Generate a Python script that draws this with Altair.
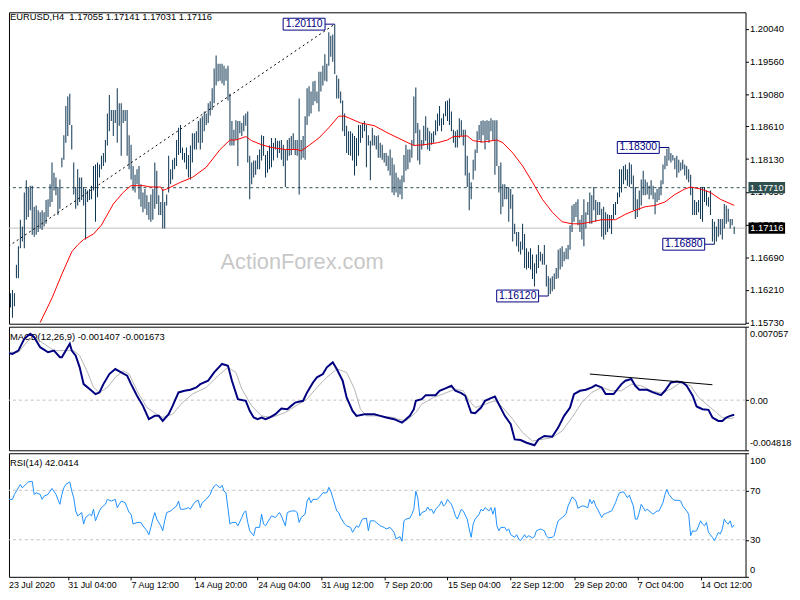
import altair as alt
import pandas as pd

# ---------------- data (prices in 1e-4 units) ----------------
HIGH = [
    11624, 11619, 11622, 11616, 11621, 11616, 11658, 11685, 11724, 11714,
    11764, 11782, 11772, 11774, 11774, 11743, 11745, 11738, 11735, 11738,
    11735, 11753, 11754, 11776, 11808, 11793, 11786, 11772, 11783, 11815,
    11848, 11891, 11905, 11909, 11863, 11808, 11772, 11798, 11786, 11786,
    11772, 11769, 11767, 11769, 11774, 11803, 11805, 11808, 11805, 11818,
    11822, 11841, 11880, 11907, 11885, 11885, 11885, 11917, 11895, 11895,
    11885, 11885, 11885, 11848, 11834, 11803, 11790, 11798, 11803, 11776,
    11764, 11769, 11760, 11750, 11761, 11769, 11808, 11796, 11760, 11750,
    11769, 11750, 11761, 11818, 11798, 11812, 11815, 11841, 11859, 11863,
    11830, 11822, 11830, 11819, 11833, 11851, 11851, 11854, 11869, 11873,
    11876, 11883, 11880, 11895, 11898, 11917, 11946, 11965, 11953, 11953,
    11953, 11950, 11946, 11950, 11909, 11869, 11856, 11870, 11869, 11869,
    11866, 11877, 11880, 11883, 11818, 11808, 11811, 11811, 11819, 11827,
    11848, 11847, 11819, 11825, 11833, 11844, 11837, 11844, 11840, 11840,
    11841, 11834, 11827, 11841, 11844, 11847, 11851, 11841, 11841, 11902,
    11841, 11847, 11876, 11917, 11920, 11912, 11927, 11928, 11912, 11941,
    11941, 11950, 11967, 11953, 11999, 11994, 11996, 12011, 11936, 11931,
    11912, 11899, 11880, 11862, 11854, 11854, 11851, 11847, 11844, 11863,
    11863, 11866, 11869, 11863, 11848, 11840, 11859, 11848, 11847, 11848,
    11837, 11834, 11822, 11822, 11818, 11827, 11815, 11805, 11793, 11786,
    11783, 11789, 11819, 11834, 11827, 11827, 11841, 11905, 11918, 11866,
    11856, 11841, 11862, 11876, 11859, 11854, 11851, 11854, 11870, 11880,
    11891, 11873, 11880, 11898, 11899, 11902, 11883, 11856, 11854, 11856,
    11873, 11870, 11856, 11856, 11818, 11793, 11779, 11812, 11827, 11854,
    11863, 11869, 11870, 11869, 11870, 11869, 11873, 11870, 11870, 11870,
    11803, 11808, 11776, 11776, 11772, 11772, 11769, 11761, 11718, 11706,
    11706, 11692, 11718, 11703, 11682, 11677, 11682, 11673, 11660, 11673,
    11687, 11677, 11674, 11687, 11658, 11641, 11638, 11641, 11645, 11653,
    11680, 11682, 11685, 11677, 11682, 11687, 11716, 11745, 11747, 11750,
    11754, 11724, 11731, 11754, 11735, 11750, 11764, 11760, 11772, 11753,
    11750, 11750, 11740, 11743, 11735, 11732, 11731, 11731, 11747, 11750,
    11764, 11798, 11798, 11803, 11805, 11798, 11808, 11805, 11789, 11772,
    11754, 11767, 11783, 11796, 11783, 11779, 11774, 11782, 11774, 11764,
    11769, 11772, 11782, 11805, 11818, 11828, 11830, 11822, 11819, 11815,
    11818, 11812, 11808, 11812, 11805, 11803, 11798, 11790, 11772, 11753,
    11750, 11753, 11772, 11772, 11772, 11767, 11757, 11767, 11725, 11721,
    11714, 11725, 11725, 11725, 11747, 11745, 11740, 11725, 11725, 11714,
]
LOW = [
    11587, 11593, 11587, 11595, 11580, 11597, 11638, 11638, 11682, 11692,
    11682, 11724, 11728, 11738, 11702, 11699, 11702, 11706, 11711, 11709,
    11714, 11718, 11728, 11743, 11750, 11767, 11760, 11731, 11740, 11801,
    11812, 11837, 11847, 11863, 11827, 11761, 11740, 11745, 11750, 11753,
    11745, 11695, 11750, 11753, 11754, 11767, 11721, 11757, 11786, 11798,
    11803, 11808, 11833, 11854, 11869, 11847, 11866, 11837, 11862, 11818,
    11866, 11869, 11818, 11798, 11783, 11767, 11764, 11776, 11754, 11743,
    11735, 11740, 11731, 11724, 11721, 11724, 11740, 11747, 11731, 11731,
    11711, 11711, 11745, 11764, 11776, 11783, 11798, 11803, 11819, 11822,
    11812, 11808, 11798, 11786, 11783, 11808, 11827, 11827, 11837, 11827,
    11837, 11854, 11863, 11866, 11877, 11885, 11895, 11921, 11927, 11928,
    11924, 11921, 11928, 11899, 11833, 11833, 11833, 11841, 11803, 11851,
    11847, 11854, 11862, 11808, 11754, 11776, 11786, 11790, 11798, 11798,
    11811, 11818, 11786, 11793, 11798, 11801, 11811, 11827, 11815, 11822,
    11812, 11803, 11772, 11811, 11818, 11819, 11827, 11819, 11818, 11761,
    11812, 11815, 11812, 11863, 11876, 11880, 11892, 11898, 11895, 11883,
    11912, 11921, 11928, 11927, 11950, 11963, 11956, 11938, 11902, 11902,
    11895, 11854, 11847, 11822, 11819, 11818, 11811, 11789, 11803, 11818,
    11837, 11844, 11854, 11801, 11833, 11782, 11833, 11833, 11827, 11815,
    11815, 11812, 11808, 11803, 11796, 11789, 11764, 11760, 11764, 11757,
    11761, 11754, 11779, 11796, 11798, 11808, 11815, 11833, 11851, 11811,
    11805, 11827, 11833, 11840, 11827, 11825, 11834, 11837, 11848, 11854,
    11862, 11854, 11863, 11876, 11869, 11863, 11854, 11837, 11830, 11830,
    11844, 11847, 11833, 11789, 11772, 11738, 11754, 11783, 11796, 11822,
    11841, 11837, 11848, 11827, 11841, 11837, 11854, 11841, 11790, 11803,
    11764, 11732, 11743, 11754, 11754, 11721, 11740, 11692, 11703, 11685,
    11677, 11673, 11680, 11653, 11651, 11653, 11651, 11637, 11626, 11645,
    11653, 11663, 11658, 11658, 11626, 11612, 11615, 11619, 11622, 11637,
    11638, 11651, 11655, 11663, 11666, 11666, 11680, 11706, 11721, 11728,
    11716, 11706, 11695, 11685, 11711, 11731, 11718, 11718, 11738, 11721,
    11731, 11731, 11699, 11695, 11702, 11706, 11711, 11703, 11725, 11731,
    11747, 11757, 11764, 11776, 11782, 11774, 11772, 11776, 11738, 11725,
    11728, 11738, 11745, 11760, 11760, 11761, 11754, 11760, 11754, 11732,
    11750, 11753, 11760, 11776, 11798, 11803, 11811, 11808, 11811, 11798,
    11786, 11793, 11796, 11798, 11789, 11783, 11779, 11760, 11731, 11731,
    11731, 11735, 11725, 11721, 11750, 11745, 11743, 11731, 11692, 11688,
    11692, 11699, 11702, 11695, 11711, 11718, 11721, 11711, 11716, 11703,
]

# moving average (bar index, price 1e-4)
MA = [(18, 11573), (24, 11609), (29, 11644), (34, 11677), (37, 11687), (40, 11695), (45, 11703),
      (49, 11716), (55, 11747), (60, 11764), (64, 11774), (70, 11774), (74, 11772), (79, 11772),
      (80, 11767), (82, 11769), (89, 11779), (95, 11786), (102, 11801), (109, 11827), (114, 11841),
      (117, 11841), (122, 11846), (125, 11840), (130, 11834), (135, 11830), (142, 11827), (148, 11827),
      (150, 11825), (154, 11833), (159, 11844), (164, 11859), (169, 11876), (172, 11876), (180, 11866),
      (187, 11862), (194, 11851), (199, 11844), (204, 11837), (207, 11833), (212, 11834), (219, 11837),
      (224, 11841), (227, 11846), (234, 11847), (237, 11840), (242, 11838), (249, 11841), (252, 11837),
      (257, 11822), (262, 11803), (267, 11779), (272, 11754), (277, 11735), (282, 11721), (287, 11718),
      (292, 11718), (297, 11721), (302, 11724), (309, 11724), (314, 11732), (319, 11738), (324, 11743),
      (329, 11745), (334, 11750), (339, 11761), (344, 11769), (347, 11772), (352, 11769), (357, 11764),
      (362, 11754), (369, 11745)]

# MACD main line (bar index, value x 0.001)
MACD_MAIN = [(0, 4.60), (4, 4.44), (7, 4.76), (10, 5.89), (13, 6.37), (15, 6.05), (18, 5.09), (22, 4.60),
             (25, 4.76), (28, 4.12), (29, 4.12), (31, 4.76), (33, 5.41), (34, 4.76), (36, 4.28), (38, 3.15),
             (40, 1.54), (43, 1.06), (46, 0.58), (48, 0.74), (50, 1.54), (53, 2.51), (56, 2.99), (59, 2.67),
             (62, 2.35), (64, 1.54), (67, 0.42), (70, -0.55), (73, -1.83), (76, -1.51), (78, -1.51),
             (80, -2.00), (83, -1.35), (85, -0.55), (88, 0.74), (91, 0.90), (94, 1.00), (97, 1.22),
             (99, 1.54), (103, 1.87), (106, 2.67), (110, 3.48), (113, 3.31), (115, 1.87), (118, 0.10),
             (122, -0.06), (124, -1.03), (126, -1.67), (128, -1.83), (130, -1.67), (132, -1.83),
             (134, -1.67), (137, -1.35), (140, -0.80), (143, -0.87), (145, -0.55), (147, -0.23),
             (151, -0.06), (153, 0.74), (156, 1.70), (158, 2.19), (161, 2.51), (163, 3.15), (166, 3.63),
             (168, 2.99), (171, 1.87), (173, 0.26), (176, -1.03), (178, -1.51), (182, -1.35), (187, -1.35),
             (190, -1.51), (193, -1.67), (197, -1.83), (199, -2.00), (201, -2.16), (203, -1.83),
             (205, -1.51), (207, -0.87), (208, -0.06), (211, 0.10), (213, 0.48), (218, 0.48), (220, 0.90),
             (223, 1.13), (226, 1.38), (228, 0.90), (231, 0.68), (233, 0.42), (236, -1.19), (238, -1.26),
             (241, -0.71), (243, -0.06), (246, 0.19), (248, 0.35), (250, -0.39), (253, -1.51), (256, -2.32),
             (258, -3.77), (261, -3.83), (264, -4.09), (268, -4.34), (270, -3.77), (273, -3.44),
             (277, -3.51), (280, -2.64), (283, -1.51), (286, -0.71), (288, 0.58), (291, 0.90), (294, 1.00),
             (297, 1.22), (299, 1.45), (302, 1.22), (304, 0.58), (308, 0.58), (312, 1.54), (314, 1.87),
             (317, 2.03), (319, 1.38), (321, 1.00), (325, 1.00), (328, 0.74), (332, 0.48), (334, 0.90),
             (337, 1.70), (340, 1.80), (343, 1.70), (345, 1.38), (348, 0.42), (350, -0.61), (353, -0.87),
             (356, -0.93), (358, -1.67), (361, -2.00), (363, -2.00), (365, -1.67), (367, -1.51),
             (369, -1.41)]

# MACD signal line (bar index, value x 0.001)
MACD_SIGNAL = [(0, 4.60), (7, 4.60), (12, 5.73), (15, 6.05), (20, 5.41), (25, 4.76), (30, 4.76), (35, 4.76),
               (38, 4.28), (42, 2.67), (45, 1.22), (48, 0.74), (52, 1.22), (56, 2.19), (60, 2.83), (63, 2.51),
               (67, 0.90), (72, -0.71), (77, -1.35), (80, -1.67), (85, -1.35), (90, -0.23), (95, 0.58),
               (102, 1.22), (108, 2.35), (113, 3.15), (117, 2.67), (120, 1.06), (125, -0.55), (130, -1.51),
               (135, -1.67), (142, -1.19), (148, -0.48), (153, 0.10), (158, 1.22), (163, 2.19), (168, 2.99),
               (173, 2.67), (177, 1.06), (180, -0.87), (183, -1.51), (190, -1.51), (197, -1.67), (199, -1.83),
               (203, -2.00), (208, -1.19), (211, -0.39), (217, 0.26), (223, 0.68), (228, 1.06), (232, 0.90),
               (235, -0.06), (238, -0.71), (243, -0.39), (248, -0.06), (252, -0.71), (257, -1.83),
               (262, -3.12), (267, -3.93), (272, -3.77), (277, -3.60), (282, -2.96), (287, -1.67),
               (292, -0.23), (297, 0.74), (302, 1.22), (307, 0.90), (312, 0.90), (317, 1.54), (322, 1.38),
               (327, 0.90), (332, 0.68), (337, 1.06), (342, 1.70), (347, 1.38), (351, 0.26), (356, -0.55),
               (360, -1.19), (363, -1.67), (367, -1.77), (369, -1.67)]

MACD_TREND = [(296, 2.51), (358, 1.48)]

# RSI(14) (bar index, value)
RSI = [(0, 64), (1, 65.3), (2, 62.7), (4, 62.7), (5, 66.7), (7, 72), (8, 74.7), (9, 72), (11, 75.2),
       (12, 76.8), (14, 77.3), (15, 66.7), (16, 68), (18, 66.7), (19, 62.7), (20, 65.3), (22, 66.7),
       (23, 69.3), (24, 71.5), (26, 66.7), (27, 62.7), (28, 58.7), (29, 66.7), (30, 72), (31, 74.7),
       (33, 76.8), (34, 69.3), (35, 64), (36, 53.3), (37, 49.3), (39, 52), (40, 42.7), (41, 48),
       (43, 50.7), (44, 49.3), (45, 54.7), (46, 45.3), (48, 53.3), (49, 56), (51, 58.7), (52, 62.7),
       (54, 61.3), (56, 62.7), (57, 56), (58, 58.7), (59, 61.3), (61, 60), (62, 56), (63, 52), (64, 50.7),
       (65, 42.7), (67, 44), (69, 44), (70, 41.3), (72, 37.3), (73, 34.1), (74, 40), (75, 46.7), (76, 52),
       (77, 46.7), (79, 41.3), (80, 37.3), (81, 45.3), (82, 52), (84, 53.3), (85, 54.7), (87, 57.3),
       (88, 61.3), (89, 54.7), (91, 54.7), (93, 56), (94, 54.7), (96, 60), (97, 61.3), (98, 61.9),
       (99, 56), (100, 60), (102, 62.7), (104, 66.7), (105, 70.7), (106, 73.3), (107, 74.7), (109, 72),
       (110, 74.1), (111, 69.3), (112, 68), (114, 42.7), (115, 44), (117, 44), (118, 41.3), (120, 48),
       (121, 52), (122, 53.3), (123, 44), (124, 37.3), (126, 33.3), (127, 40), (129, 40), (130, 50.7),
       (131, 42.7), (132, 41.3), (134, 46.7), (135, 49.3), (137, 48), (139, 52), (140, 49.3), (142, 41.3),
       (143, 52), (145, 53.3), (147, 53.3), (148, 52), (149, 44), (150, 48), (152, 50.7), (153, 61.3),
       (154, 64), (155, 60), (156, 62.7), (158, 62.7), (159, 64), (161, 68), (163, 68), (164, 72.5),
       (165, 69.3), (166, 64), (168, 53.3), (169, 52), (170, 48), (172, 42.7), (173, 41.3), (175, 40),
       (176, 36), (178, 41.3), (179, 40), (181, 46.7), (183, 47.5), (184, 37.3), (185, 45.3), (187, 45.3),
       (188, 44), (190, 41.3), (192, 40), (193, 38.7), (195, 40), (197, 36), (198, 30.7), (200, 32.5),
       (201, 28.8), (202, 45.3), (203, 46.7), (205, 47.5), (206, 50.7), (207, 54.7), (208, 69.3),
       (209, 64), (210, 49.3), (211, 52), (213, 53.3), (214, 56.5), (215, 53.9), (216, 54.7), (217, 51.2),
       (218, 54.7), (220, 58.1), (221, 61.3), (222, 57.3), (223, 58.7), (224, 62.7), (226, 58.7),
       (227, 54.7), (228, 49.3), (229, 46.7), (231, 54.7), (232, 53.3), (234, 46.7), (235, 38.7),
       (236, 32), (237, 42.7), (238, 46.7), (240, 50.7), (241, 54.7), (242, 53.3), (243, 56), (245, 53.3),
       (246, 56), (247, 50.7), (248, 56), (249, 41.3), (250, 37.3), (251, 40), (253, 40), (254, 37.3),
       (255, 38.7), (256, 34.1), (258, 32), (259, 34.1), (260, 30.7), (261, 29.3), (263, 34.1),
       (264, 31.5), (265, 33.3), (267, 31.5), (268, 32.5), (269, 37.3), (271, 38.7), (272, 38.1),
       (273, 37.3), (274, 33.3), (275, 31.5), (277, 32), (278, 33.3), (279, 40), (280, 45.3), (282, 48),
       (283, 49.3), (284, 51.2), (285, 57.3), (287, 64.5), (288, 63.5), (289, 61.3), (290, 55.5),
       (292, 57.3), (293, 57.3), (295, 56), (296, 62.7), (297, 59.2), (298, 61.9), (299, 57.3),
       (300, 54.7), (302, 48), (303, 50.7), (304, 51.2), (305, 52), (307, 53.3), (308, 56.5), (309, 60),
       (310, 64.5), (311, 68), (313, 68.8), (314, 66.7), (315, 64), (316, 66.1), (318, 57.3), (319, 46.7),
       (320, 46.7), (321, 52), (322, 58.7), (323, 56), (324, 53.3), (325, 54.7), (327, 52), (328, 50.7),
       (330, 53.3), (331, 53.3), (333, 60), (334, 66.7), (335, 70.7), (336, 66.7), (338, 62.7),
       (339, 61.9), (341, 61.9), (342, 61.3), (343, 57.3), (345, 53.3), (346, 50.7), (347, 33.3),
       (348, 37.3), (349, 36.8), (350, 37.3), (352, 45.3), (353, 42.7), (354, 41.3), (355, 44), (356, 36),
       (358, 32), (359, 29.3), (360, 32.5), (361, 36), (362, 34.7), (363, 38.7), (364, 46.7), (365, 44),
       (366, 42.7), (367, 45.3), (368, 40), (369, 42.0)]

PRICE_TICKS = [1.2004, 1.1956, 1.1908, 1.1861, 1.1813, 1.1765, 1.1717, 1.1669, 1.1621, 1.1573]
MACD_TICKS = [0.007057, 0.0, -0.004818]
RSI_TICKS = [0, 30, 70, 100]
RSI_LEVELS = [70, 30]
DATE_IDX = [32, 64, 96, 128, 160, 192, 224, 256, 288, 320, 352]
DATE_LABELS = ["31 Jul 04:00", "7 Aug 12:00", "14 Aug 20:00", "24 Aug 04:00", "31 Aug 12:00",
               "7 Sep 20:00", "15 Sep 04:00", "22 Sep 12:00", "29 Sep 20:00", "7 Oct 04:00", "14 Oct 12:00"]
FIRST_DATE = "23 Jul 2020"

HEADER = "EURUSD,H4\u00a0\u00a01.17055 1.17141 1.17031 1.17116"
MACD_TITLE = "MACD(12,26,9) -0.001407 -0.001673"
RSI_TITLE = "RSI(14) 42.0414"
WATERMARK = "ActionForex.com"

RESISTANCE = 1.1771
BID = 1.17116
TREND = [(0, 11681), (167, 12011)]

NOTE_TEXT = ["1.20110", "1.18300", "1.16880", "1.16120"]
NOTE_PRICE = [1.2011, 1.1830, 1.1688, 1.1612]
NOTE_BAR = [167, 336, 359, 275]

TAG_TEXT = ["1.17710", "1.17116"]
TAG_PRICE = [1.1771, 1.17116]

assert len(HIGH) == len(LOW) == 370

# ---------------- styling / layout ----------------
FONT = "Liberation Sans"
BAR_COLOR = "#0A3350"
W = 745
H_PRICE, H_IND = 315, 125

XS = alt.Scale(domain=[2.25, 374.75], nice=False, zero=False, padding=0)
PS = alt.Scale(domain=[1.15713, 1.20284], nice=False, zero=False)
MS = alt.Scale(domain=[-0.004818, 0.007057], nice=False, zero=False)
RS = alt.Scale(domain=[0, 100], nice=False, zero=False)

PAX = alt.Axis(orient="right", values=PRICE_TICKS, format=".5f", tickSize=3, tickColor="black",
               labelPadding=1, labelFontSize=9.5, labelFont=FONT, labelColor="black", domain=False,
               grid=False, title=None, labelOverlap=False)
MAX = alt.Axis(orient="right", values=MACD_TICKS,
               labelExpr="datum.value == 0 ? '0.00' : '' + datum.value",
               tickSize=3, tickColor="black", labelPadding=1, labelFontSize=9.3, labelFont=FONT,
               labelColor="black", domain=False, grid=False, title=None, labelOverlap=False,
               labelFlush=True, labelFlushOffset=-3)
RAX = alt.Axis(orient="right", values=RSI_TICKS, format="d", tickSize=3, tickColor="black",
               labelPadding=1, labelFontSize=9.5, labelFont=FONT, labelColor="black", domain=False,
               grid=False, title=None, labelOverlap=False, labelFlush=True, labelFlushOffset=-2)
label_arr = "[" + ",".join("'%s'" % s for s in DATE_LABELS) + "]"
idx_arr = "[" + ",".join(str(v) for v in DATE_IDX) + "]"
XAX = alt.Axis(values=DATE_IDX, labelExpr=label_arr + "[indexof(" + idx_arr + ", datum.value)]",
               labelAlign="left", labelBaseline="top", tickSize=3, tickColor="black", labelPadding=1,
               labelFontSize=9, labelFont=FONT, labelColor="black", domain=False, grid=False,
               title=None, labelOverlap=False, labelFlush=False)

def X(field, axis=None):
    return alt.X(field, type="quantitative", scale=XS, axis=axis)

# ---------------- price panel ----------------
bars_df = pd.DataFrame({"i": list(range(len(HIGH))),
                        "high": [v / 1e4 for v in HIGH], "low": [v / 1e4 for v in LOW]})
ma_df = pd.DataFrame({"i": [a for a, b in MA], "p": [b / 1e4 for a, b in MA]})
trend_df = pd.DataFrame({"i": [a for a, b in TREND], "p": [b / 1e4 for a, b in TREND]})
half_box = 0.00087
notes_df = pd.DataFrame({
    "t": NOTE_TEXT, "p": NOTE_PRICE, "bar": NOTE_BAR,
    "p0": [p - half_box for p in NOTE_PRICE], "p1": [p + half_box for p in NOTE_PRICE],
})
notes_df["x1"] = notes_df["bar"] - 4.9
notes_df["x0"] = notes_df["x1"] - 21.2
notes_df["xc"] = (notes_df["x0"] + notes_df["x1"]) / 2
tags_df = pd.DataFrame({"t": TAG_TEXT, "p": TAG_PRICE, "fill": ["#2F4F4F", "#000000"],
                        "p0": [p - 0.00083 for p in TAG_PRICE], "p1": [p + 0.00083 for p in TAG_PRICE]})
tags_df["x0"] = 376.25
tags_df["x1"] = 394.75
tags_df["xc"] = 385.5

def PY(field):
    return alt.Y(field, type="quantitative", scale=PS, axis=PAX)

watermark = alt.Chart(pd.DataFrame({"t": [WATERMARK]})).mark_text(
    font=FONT, fontSize=22, color="#C8C8C8", align="center", baseline="alphabetic"
).encode(x=alt.value(296.5), y=alt.value(260), text="t:N")

header = alt.Chart(pd.DataFrame({"t": [HEADER]})).mark_text(
    font=FONT, fontSize=9.5, color="black", align="left", baseline="alphabetic"
).encode(x=alt.value(1), y=alt.value(8), text="t:N")

bid = alt.Chart(pd.DataFrame({"p": [BID]})).mark_rule(color="#C0C0C0", strokeWidth=1).encode(y=PY("p"))
res = alt.Chart(pd.DataFrame({"p": [RESISTANCE]})).mark_rule(
    color="#2F4F4F", strokeWidth=1, strokeDash=[3, 3]).encode(y=PY("p"))

# OHLC bars at this zoom level: 1-pixel wide high-low bars
bars = alt.Chart(bars_df).mark_bar(color=BAR_COLOR, width=1, clip=True).encode(
    x=X("i"), y=PY("low"), y2="high:Q")

ma = alt.Chart(ma_df).mark_line(color="#FF0000", strokeWidth=1, clip=True).encode(x=X("i"), y=PY("p"))

trend = alt.Chart(trend_df).mark_line(color="black", strokeWidth=1, strokeDash=[2, 3], clip=True).encode(
    x=X("i"), y=PY("p"))

note_conn = alt.Chart(notes_df).mark_rule(color="#000080", strokeWidth=1).encode(
    x=X("x1"), x2="bar:Q", y=PY("p"))
note_box = alt.Chart(notes_df).mark_rect(fill="white", stroke="#000080", strokeWidth=1).encode(
    x=X("x0"), x2="x1:Q", y=PY("p0"), y2="p1:Q")
note_txt = alt.Chart(notes_df).mark_text(font=FONT, fontSize=10.5, color="#000080", align="center",
                                         baseline="middle").encode(x=X("xc"), y=PY("p"), text="t:N")

tag_box = alt.Chart(tags_df).mark_rect(clip=False).encode(
    x=X("x0"), x2="x1:Q", y=PY("p0"), y2="p1:Q", fill=alt.Fill("fill:N", scale=None))
tag_txt = alt.Chart(tags_df).mark_text(font=FONT, fontSize=9.5, color="white", align="center",
                                       baseline="middle", clip=False).encode(
    x=X("xc"), y=PY("p"), text="t:N")

price = alt.layer(watermark, header, bid, res, bars, ma, trend, note_conn, note_box, note_txt,
                  tag_box, tag_txt).properties(width=W, height=H_PRICE)

# ---------------- MACD panel ----------------
main_df = pd.DataFrame({"i": [a for a, b in MACD_MAIN], "v": [b / 1e3 for a, b in MACD_MAIN]})
sig_df = pd.DataFrame({"i": [a for a, b in MACD_SIGNAL], "v": [b / 1e3 for a, b in MACD_SIGNAL]})
mtrend_df = pd.DataFrame({"i": [a for a, b in MACD_TREND], "v": [b / 1e3 for a, b in MACD_TREND]})

def MY(field):
    return alt.Y(field, type="quantitative", scale=MS, axis=MAX)

m_title = alt.Chart(pd.DataFrame({"t": [MACD_TITLE]})).mark_text(
    font=FONT, fontSize=9.5, color="black", align="left", baseline="alphabetic"
).encode(x=alt.value(1), y=alt.value(13), text="t:N")
m_zero = alt.Chart(pd.DataFrame({"v": [0.0]})).mark_rule(
    color="#C0C0C0", strokeWidth=1, strokeDash=[3, 3]).encode(y=MY("v"))
m_sig = alt.Chart(sig_df).mark_line(color="#B4B4B4", strokeWidth=1, clip=True).encode(x=X("i"), y=MY("v"))
m_main = alt.Chart(main_df).mark_line(color="#000080", strokeWidth=2, clip=True).encode(x=X("i"), y=MY("v"))
m_trend = alt.Chart(mtrend_df).mark_line(color="black", strokeWidth=1, clip=True).encode(x=X("i"), y=MY("v"))

macd = alt.layer(m_title, m_zero, m_sig, m_main, m_trend).properties(width=W, height=H_IND)

# ---------------- RSI panel ----------------
rsi_df = pd.DataFrame({"i": [a for a, b in RSI], "v": [b for a, b in RSI]})

def RY(field):
    return alt.Y(field, type="quantitative", scale=RS, axis=RAX)

r_title = alt.Chart(pd.DataFrame({"t": [RSI_TITLE]})).mark_text(
    font=FONT, fontSize=9.5, color="black", align="left", baseline="alphabetic"
).encode(x=alt.value(1), y=alt.value(13), text="t:N")
r_levels = alt.Chart(pd.DataFrame({"v": RSI_LEVELS})).mark_rule(
    color="#C0C0C0", strokeWidth=1, strokeDash=[3, 3]).encode(y=RY("v"))
r_line = alt.Chart(rsi_df).mark_line(color="#1E90FF", strokeWidth=1, clip=True).encode(
    x=X("i", XAX), y=RY("v"))
r_first = alt.Chart(pd.DataFrame({"t": [FIRST_DATE]})).mark_text(
    font=FONT, fontSize=9, color="black", align="left", baseline="top"
).encode(x=alt.value(0), y=alt.value(H_IND + 4), text="t:N")

rsi = alt.layer(r_title, r_levels, r_line, r_first).properties(width=W, height=H_IND)

chart = alt.vconcat(price, macd, rsi, spacing=3, bounds="flush").properties(
    padding=0, background="white"
).configure_view(stroke="black", strokeWidth=1)

chart.save("out.html", embed_options={"renderer": "svg", "actions": False})
